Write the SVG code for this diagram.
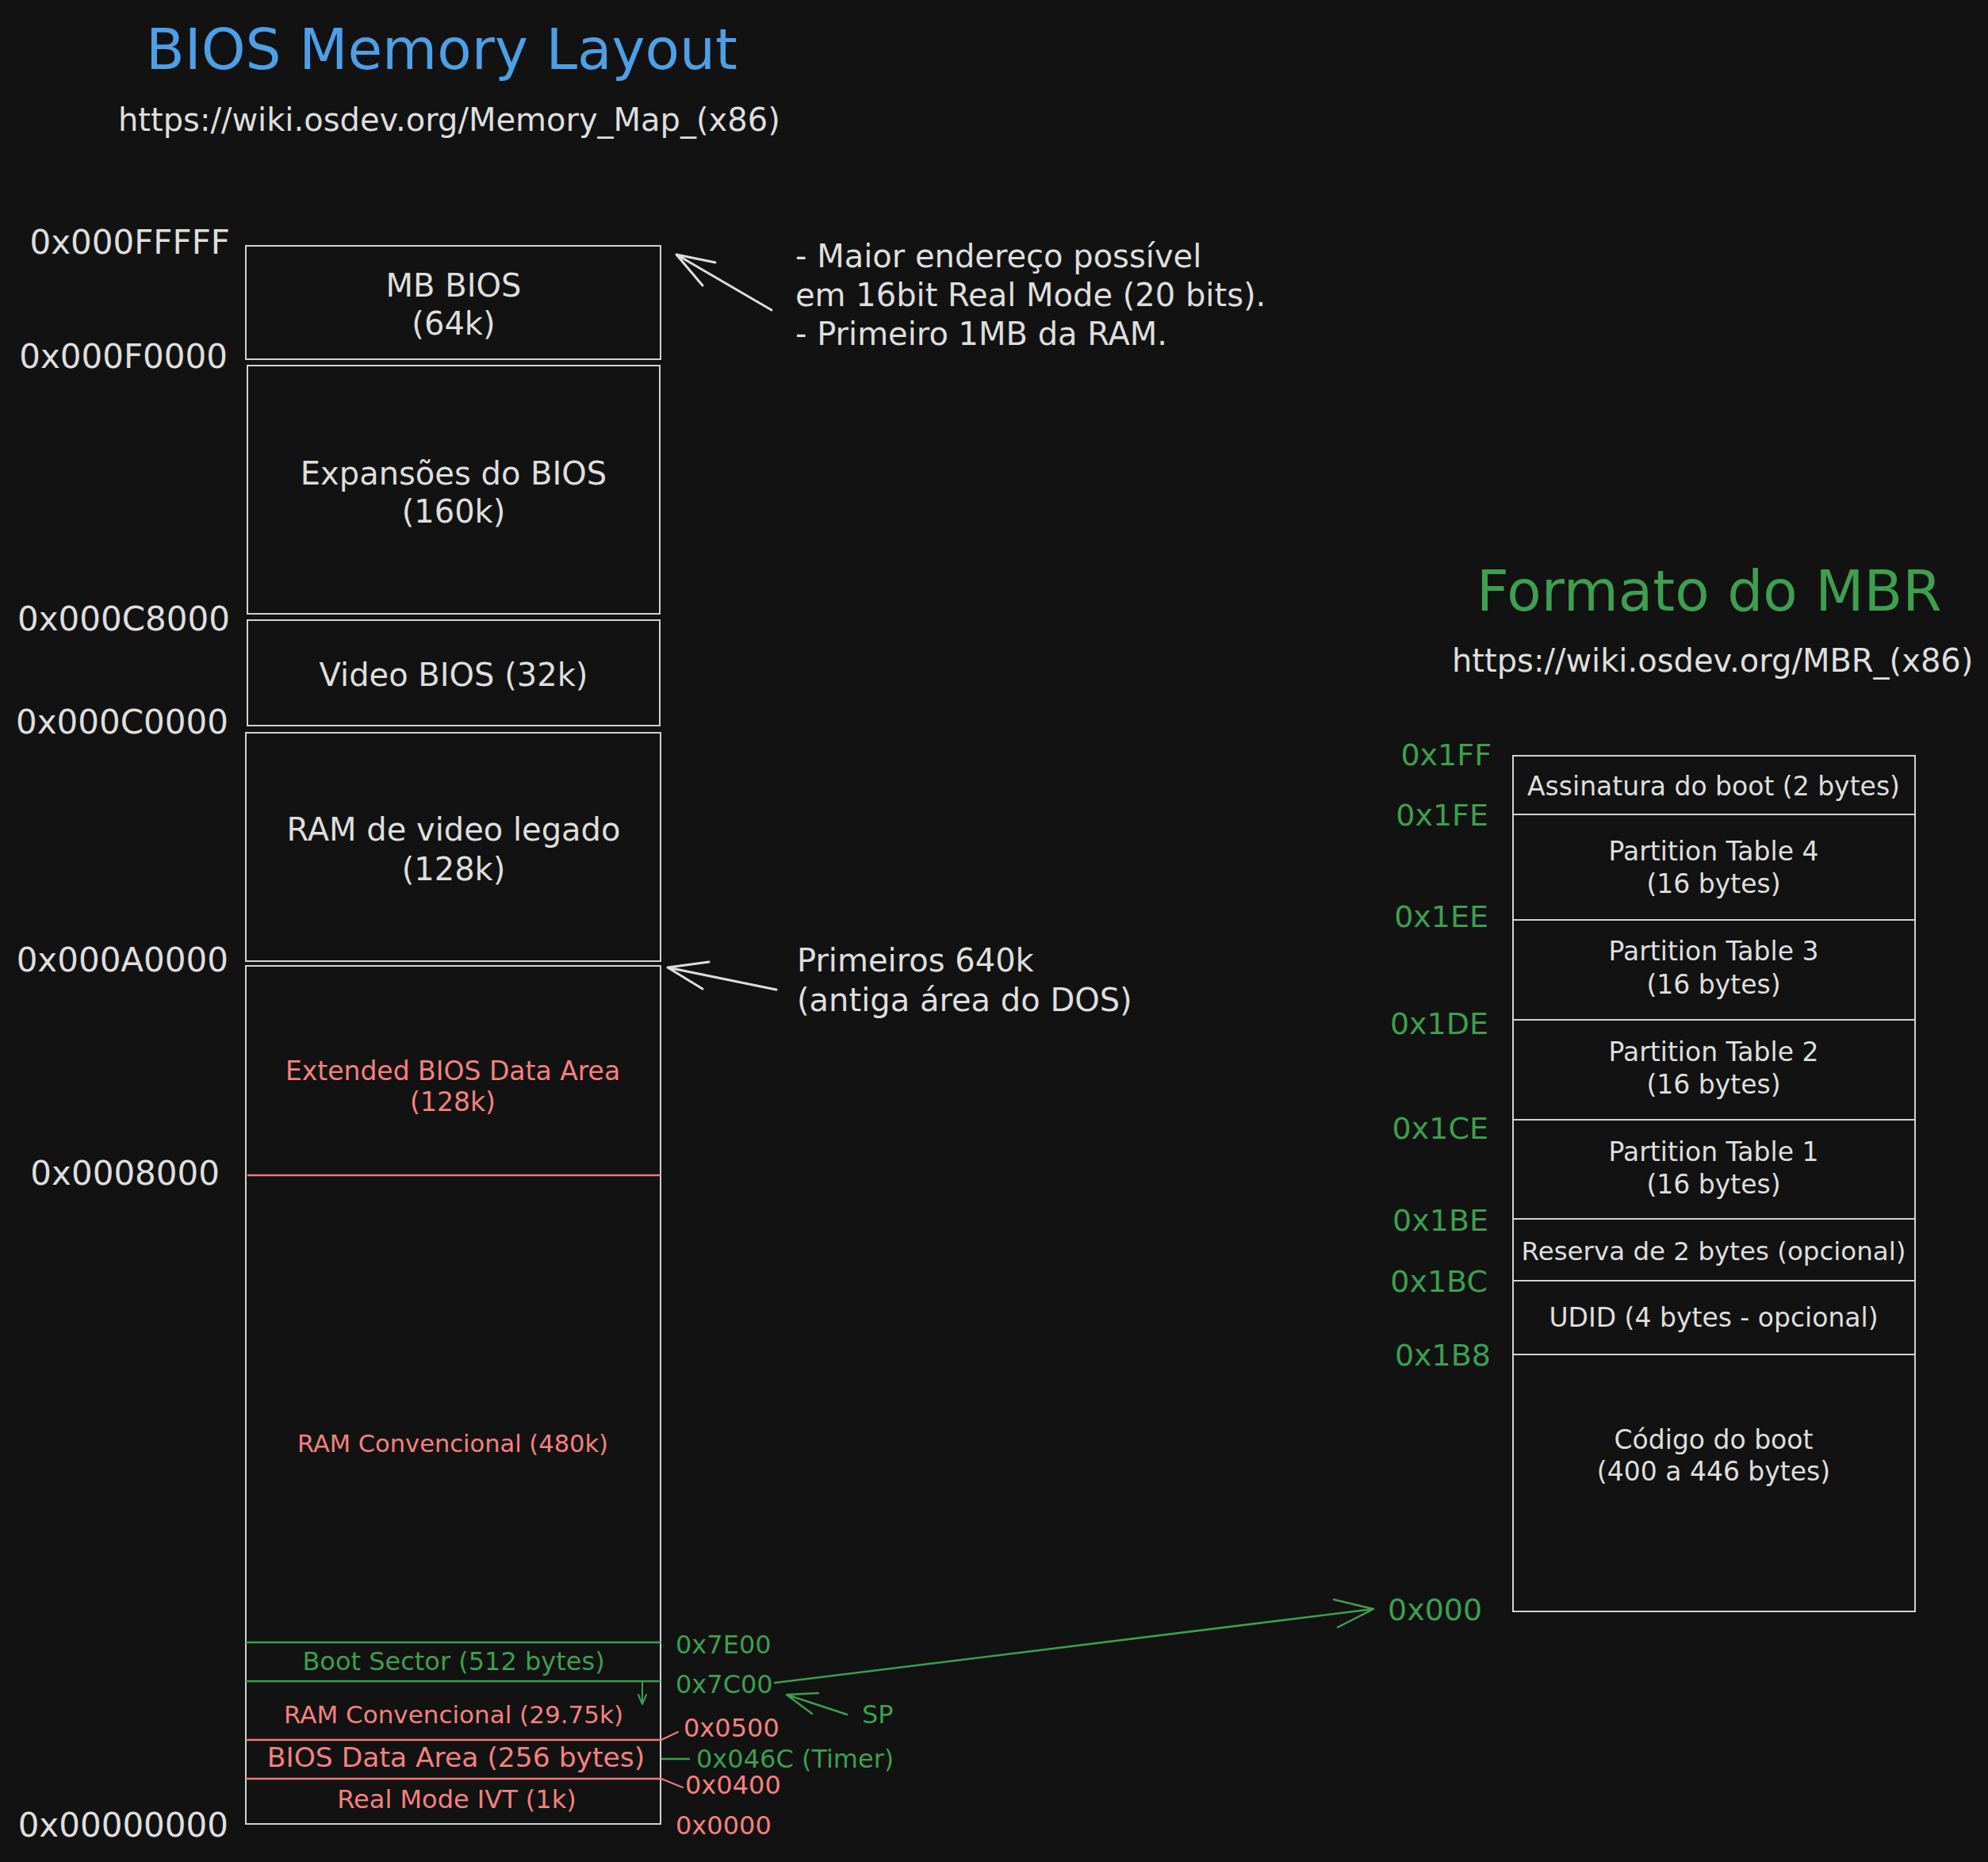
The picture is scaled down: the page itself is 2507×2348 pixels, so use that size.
<svg xmlns="http://www.w3.org/2000/svg" width="2507" height="2348" viewBox="0 0 2507 2348">
<style>
text{font-family:"DejaVu Sans","Liberation Sans",sans-serif}
.w{fill:#dedede}
.b{fill:#4d9fe6}
.g{fill:#3d9f4f}
.r{fill:#f58080}
.box{fill:none;stroke:#d2d2d2;stroke-width:2}
.sep{stroke:#d2d2d2;stroke-width:2}
.rl{stroke:#f07878;stroke-width:2.5}
.gl{stroke:#3d9f4f;stroke-width:2.5}
.c{text-anchor:middle}
.e{text-anchor:end}
.arw{fill:none;stroke:#dedede;stroke-width:3;stroke-linecap:round;stroke-linejoin:round}
.arg{fill:none;stroke:#3d9f4f;stroke-width:2.5;stroke-linecap:round;stroke-linejoin:round}
.arr{fill:none;stroke:#f07878;stroke-width:2;stroke-linecap:round}
.t1{font-size:71px}
.url{font-size:40px}
.addr{font-size:42px}
.bx{font-size:40px}
.rb{font-size:33px}
.sm{font-size:32px}
.note{font-size:40px}
.mb{font-size:33px}
.ma{font-size:38px}
</style>
<rect x="0" y="0" width="2507" height="2348" fill="#121212"/>

<g id="title-bios">
<text class="t1 b" x="184" y="87">BIOS Memory Layout</text>
<text class="url w" x="149" y="165">https://wiki.osdev.org/Memory_Map_(x86)</text>
</g>

<g id="addr-left">
<text class="addr w e" x="290" y="320">0x000FFFFF</text>
<text class="addr w e" x="287" y="464">0x000F0000</text>
<text class="addr w e" x="290" y="795">0x000C8000</text>
<text class="addr w e" x="288" y="925">0x000C0000</text>
<text class="addr w e" x="288" y="1225">0x000A0000</text>
<text class="addr w e" x="277" y="1494">0x0008000</text>
<text class="addr w e" x="288" y="2316">0x00000000</text>
</g>

<g id="mb-bios">
<rect class="box" x="310" y="310" width="523" height="143"/>
<text class="bx w c" x="572" y="374">MB BIOS</text>
<text class="bx w c" x="572" y="422">(64k)</text>
</g>

<g id="bios-expansions">
<rect class="box" x="312" y="461" width="520" height="313"/>
<text class="bx w c" x="572" y="611">Expansões do BIOS</text>
<text class="bx w c" x="572" y="659">(160k)</text>
</g>

<g id="video-bios">
<rect class="box" x="312" y="782" width="520" height="133"/>
<text class="bx w c" x="572" y="865">Video BIOS (32k)</text>
</g>

<g id="legacy-video-ram">
<rect class="box" x="310" y="924" width="523" height="288"/>
<text class="bx w c" x="572" y="1060">RAM de video legado</text>
<text class="bx w c" x="572" y="1110">(128k)</text>
</g>

<g id="low-memory">
<rect class="box" x="310" y="1218" width="523" height="1082"/>
<line class="rl" x1="312" y1="1482" x2="833" y2="1482"/>
<line class="gl" x1="310" y1="2071" x2="833" y2="2071"/>
<line class="gl" x1="310" y1="2120" x2="833" y2="2120"/>
<line class="rl" x1="310" y1="2194" x2="833" y2="2194"/>
<line class="rl" x1="310" y1="2243" x2="833" y2="2243"/>
</g>

<g id="ebda">
<text class="rb r c" x="571" y="1362">Extended BIOS Data Area</text>
<text class="rb r c" x="571" y="1401">(128k)</text>
</g>

<g id="conventional-ram">
<text class="r c" x="571" y="1831" style="font-size:30.5px">RAM Convencional (480k)</text>
</g>

<g id="boot-sector">
<text class="sm g c" x="572" y="2106">Boot Sector (512 bytes)</text>
</g>

<g id="conventional-ram-small">
<text class="r c" x="572" y="2173" style="font-size:31px">RAM Convencional (29.75k)</text>
</g>

<g id="bda">
<text class="r c" x="575" y="2228" style="font-size:34.5px">BIOS Data Area (256 bytes)</text>
</g>

<g id="ivt">
<text class="sm r c" x="576" y="2280">Real Mode IVT (1k)</text>
</g>

<g id="addr-right">
<text class="sm g" x="852" y="2085">0x7E00</text>
<text class="sm g" x="852" y="2135">0x7C00</text>
<text class="sm r" x="862" y="2190">0x0500</text>
<text class="sm g" x="878" y="2229">0x046C (Timer)</text>
<text class="sm r" x="864" y="2262">0x0400</text>
<text class="sm r" x="852" y="2313">0x0000</text>
<text class="sm g" x="1087" y="2173">SP</text>
</g>

<g id="note-top">
<text class="note w" x="1003" y="337">- Maior endereço possível</text>
<text class="note w" x="1003" y="386">em 16bit Real Mode (20 bits).</text>
<text class="note w" x="1003" y="435">- Primeiro 1MB da RAM.</text>
</g>

<g id="note-640k">
<text class="note w" x="1005" y="1225">Primeiros 640k</text>
<text class="note w" x="1005" y="1275">(antiga área do DOS)</text>
</g>

<g id="title-mbr">
<text class="t1 g" x="1862" y="770">Formato do MBR</text>
<text class="url w" x="1831" y="847">https://wiki.osdev.org/MBR_(x86)</text>
</g>

<g id="mbr">
<rect class="box" x="1908" y="953" width="507" height="1079"/>
<line class="sep" x1="1908" y1="1027" x2="2415" y2="1027"/>
<line class="sep" x1="1908" y1="1160" x2="2415" y2="1160"/>
<line class="sep" x1="1908" y1="1286" x2="2415" y2="1286"/>
<line class="sep" x1="1908" y1="1412" x2="2415" y2="1412"/>
<line class="sep" x1="1908" y1="1537" x2="2415" y2="1537"/>
<line class="sep" x1="1908" y1="1615" x2="2415" y2="1615"/>
<line class="sep" x1="1908" y1="1708" x2="2415" y2="1708"/>
<text class="mb w c" x="2161" y="1003">Assinatura do boot (2 bytes)</text>
<text class="mb w c" x="2161" y="1085">Partition Table 4</text>
<text class="mb w c" x="2161" y="1126">(16 bytes)</text>
<text class="mb w c" x="2161" y="1211">Partition Table 3</text>
<text class="mb w c" x="2161" y="1253">(16 bytes)</text>
<text class="mb w c" x="2161" y="1338">Partition Table 2</text>
<text class="mb w c" x="2161" y="1379">(16 bytes)</text>
<text class="mb w c" x="2161" y="1464">Partition Table 1</text>
<text class="mb w c" x="2161" y="1505">(16 bytes)</text>
<text class="w c" x="2161" y="1589" style="font-size:32.5px">Reserva de 2 bytes (opcional)</text>
<text class="mb w c" x="2161" y="1673">UDID (4 bytes - opcional)</text>
<text class="mb w c" x="2161" y="1827">Código do boot</text>
<text class="mb w c" x="2161" y="1867">(400 a 446 bytes)</text>
</g>

<g id="addr-mbr">
<text class="ma g e" x="1881" y="965">0x1FF</text>
<text class="ma g e" x="1877" y="1041">0x1FE</text>
<text class="ma g e" x="1877" y="1169">0x1EE</text>
<text class="ma g e" x="1877" y="1304">0x1DE</text>
<text class="ma g e" x="1877" y="1436">0x1CE</text>
<text class="ma g e" x="1877" y="1552">0x1BE</text>
<text class="ma g e" x="1876" y="1629">0x1BC</text>
<text class="ma g e" x="1880" y="1722">0x1B8</text>
<text class="ma g" x="1750" y="2043">0x000</text>
</g>

<g id="connectors">
<path class="arw" d="M973 391 L853 321 M902 331 L853 321 L886 360"/>
<path class="arw" d="M979 1248 L842 1220 M894 1213 L842 1220 L886 1247"/>
<path class="arg" d="M977 2122 L1732 2029 M1682 2017 L1732 2029 L1687 2052"/>
<path class="arg" d="M1068 2162 L992 2137 M1032 2135 L992 2137 L1024 2161"/>
<path class="arg" d="M810 2120 L810 2149 M805 2137 L810 2149 L815 2137" style="stroke-width:2"/>
<line class="gl" x1="834" y1="2218" x2="870" y2="2218"/>
<line class="arr" x1="834" y1="2194" x2="855" y2="2184"/>
<line class="arr" x1="834" y1="2243" x2="861" y2="2254"/>
</g>
</svg>
